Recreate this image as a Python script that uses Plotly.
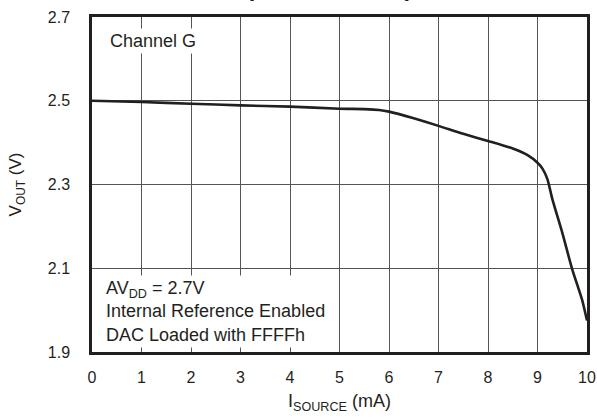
import plotly.graph_objects as go

# Data
i_source_ma = [0, 1, 2, 3, 4, 5, 5.5, 5.8, 6, 6.5, 7, 7.5, 8, 8.5, 8.8, 9, 9.1, 9.2, 9.3, 9.5, 9.7, 9.9, 10]
v_out = [2.500, 2.497, 2.493, 2.489, 2.486, 2.481, 2.480, 2.478, 2.474, 2.458, 2.440, 2.421, 2.404,
         2.386, 2.370, 2.352, 2.338, 2.313, 2.265, 2.185, 2.098, 2.025, 1.975]

x_ticks = [0, 1, 2, 3, 4, 5, 6, 7, 8, 9, 10]
y_ticks = [1.9, 2.1, 2.3, 2.5, 2.7]
y_tick_labels = ["1.9", "2.1", "2.3", "2.5", "2.7"]

FONT = "Liberation Sans, Arial, sans-serif"
TXT = "#231f20"

fig = go.Figure()
fig.add_trace(go.Scatter(
    x=i_source_ma, y=v_out, mode="lines",
    line=dict(color="#231f20", width=2.6, shape="spline", smoothing=0.6),
    showlegend=False, hoverinfo="skip",
))

axis_common = dict(
    showline=True, linecolor="#231f20", linewidth=2.5, mirror=True,
    showgrid=True, gridcolor="#555555", gridwidth=1, automargin=False,
    zeroline=False, ticks="", tickfont=dict(family=FONT, size=16, color=TXT),
)

fig.update_xaxes(
    range=[0, 10], tickvals=x_ticks, ticktext=[str(v) for v in x_ticks],
    ticklabelstandoff=9,
    title=dict(text="I<sub>SOURCE</sub> (mA)", font=dict(family=FONT, size=18, color=TXT), standoff=10),
    **axis_common,
)
fig.update_yaxes(
    range=[1.9, 2.7], tickvals=y_ticks, ticktext=y_tick_labels,
    ticklabelstandoff=16,
    title=dict(text="V<sub>OUT</sub> (V)", font=dict(family=FONT, size=17, color=TXT), standoff=22),
    **axis_common,
)

fig.add_annotation(
    text="Channel G", xref="paper", yref="paper", x=0.03, y=0.927,
    xanchor="left", yanchor="middle", showarrow=False, align="left",
    font=dict(family=FONT, size=18, color=TXT), bgcolor="white", borderpad=2,
)
fig.add_annotation(
    text="AV<sub>DD</sub> = 2.7V<br>Internal Reference Enabled<br>DAC Loaded with FFFFh",
    xref="paper", yref="paper", x=0.022, y=0.012,
    xanchor="left", yanchor="bottom", showarrow=False, align="left",
    font=dict(family=FONT, size=18, color=TXT), bgcolor="white", borderpad=2,
)
# Chart title, mostly above the visible page (only its lower edge shows)
fig.add_annotation(
    text="<b>(Source Mode)</b>", xref="paper", yref="paper", x=0.48, y=1.0,
    yshift=30, xanchor="center", yanchor="middle", showarrow=False,
    font=dict(family=FONT, size=24, color=TXT),
)

fig.update_layout(
    width=597, height=420,
    margin=dict(l=92, r=10, t=17, b=68, autoexpand=False),
    paper_bgcolor="white", plot_bgcolor="white",
    font=dict(family=FONT, color=TXT),
)

fig.write_html("out.html", config={"displayModeBar": False})

# remove the browser's default page margin so the figure sits at the window origin
with open("out.html", encoding="utf-8") as f:
    html = f.read()
html = html.replace("<body>", '<body style="margin:0;overflow:hidden">', 1)
with open("out.html", "w", encoding="utf-8") as f:
    f.write(html)
